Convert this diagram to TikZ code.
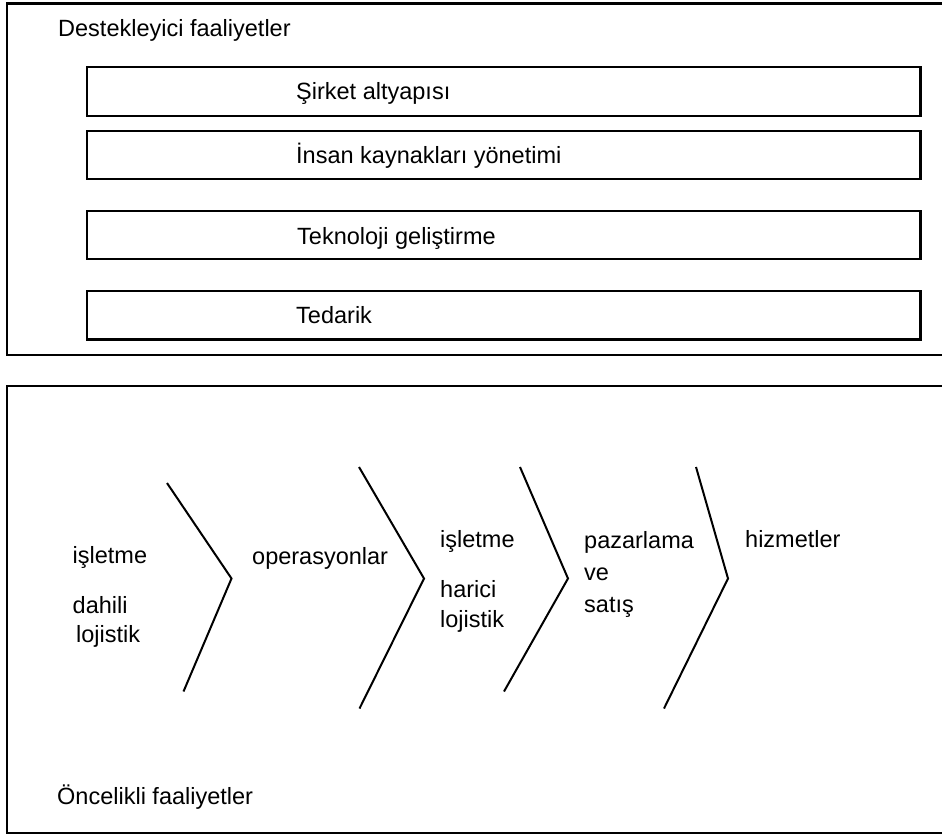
\documentclass[tikz,border=0pt]{standalone}
\usepackage{fontspec}
\setmainfont{Liberation Sans}
\begin{document}
\begin{tikzpicture}[x=1pt,y=-1pt,
  lbl/.style={anchor=base west,inner sep=0pt,font=\fontsize{23.5}{28}\selectfont},
  frame/.style={draw=black,line width=2.6pt},
  bar/.style={draw=black,line width=2.4pt},
  chev/.style={draw=black,line width=2pt,line join=miter}]
\useasboundingbox (0,0) rectangle (942,836);
\clip (0,0) rectangle (942,836);
\fill[white] (0,0) rectangle (942,836);

% support activities panel
\draw[frame] (7,3.5) rectangle (960,355);
\node[lbl] (support) at (58,36) {Destekleyici faaliyetler};

\draw[bar] (87,67) rectangle (920.5,116);
\node[lbl] (infra) at (296,99.5) {Şirket altyapısı};
\draw[bar] (87,131) rectangle (920.5,179);
\node[lbl] (hr) at (296,163) {İnsan kaynakları yönetimi};
\draw[bar] (87,211) rectangle (920.5,259);
\node[lbl] (tech) at (297,244.5) {Teknoloji geliştirme};
\draw[bar] (87,291) rectangle (920.5,339.5);
\node[lbl] (proc) at (296,323.5) {Tedarik};

% primary activities panel
\draw[frame] (7,386) rectangle (960,833);
\node[lbl] (primary) at (57,804) {Öncelikli faaliyetler};

% chevron separators
\coordinate (c1t) at (167,483);
\coordinate (c1m) at (231.5,578.5);
\coordinate (c1b) at (183.5,691.5);
\coordinate (c2t) at (359,467);
\coordinate (c2m) at (424,578.5);
\coordinate (c2b) at (359.5,708.5);
\coordinate (c3t) at (520,467);
\coordinate (c3m) at (568,578.5);
\coordinate (c3b) at (504,691.5);
\coordinate (c4t) at (696,467);
\coordinate (c4m) at (728,578.5);
\coordinate (c4b) at (664,708.5);
\draw[chev] (c1t) -- (c1m) -- (c1b);
\draw[chev] (c2t) -- (c2m) -- (c2b);
\draw[chev] (c3t) -- (c3m) -- (c3b);
\draw[chev] (c4t) -- (c4m) -- (c4b);

% stage labels
\node[lbl] (in1) at (72.5,563) {işletme};
\node[lbl] (in2) at (72.5,613) {dahili};
\node[lbl] (in3) at (76,642) {lojistik};
\node[lbl] (ops) at (252,564) {operasyonlar};
\node[lbl] (out1) at (440,547) {işletme};
\node[lbl] (out2) at (440,597) {harici};
\node[lbl] (out3) at (440,627) {lojistik};
\node[lbl] (mk1) at (584,548) {pazarlama};
\node[lbl] (mk2) at (584,580) {ve};
\node[lbl] (mk3) at (584,612) {satış};
\node[lbl] (svc) at (745,547) {hizmetler};
\end{tikzpicture}
\end{document}
